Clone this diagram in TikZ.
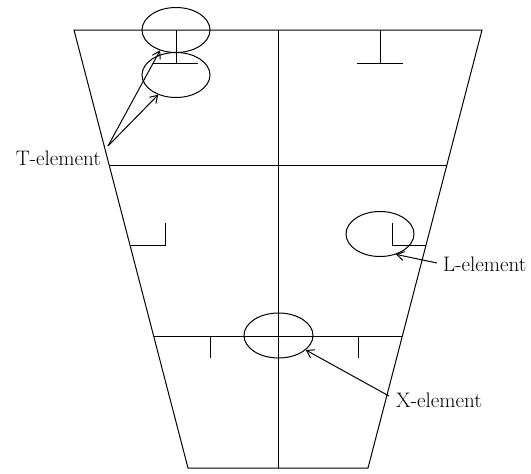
\documentclass[tikz,border=0pt]{standalone}
\usetikzlibrary{shapes.geometric,arrows.meta}
\begin{document}
\begin{tikzpicture}[x=1pt,y=-1pt,
  wall/.style={line width=1pt},
  elem/.style={draw,ellipse,line width=1pt,minimum width=68pt,minimum height=45pt,inner sep=0pt},
  lbl/.style={font=\fontsize{21}{25}\selectfont,inner sep=0pt},
  pointer/.style={line width=1pt,-{Straight Barb[length=7pt,width=9pt]}}]
\useasboundingbox (0,0) rectangle (531,474);
% outline
\coordinate (tl) at (74,30);
\coordinate (tr) at (482,30);
\coordinate (br) at (368,468);
\coordinate (bl) at (188,468);
\draw[wall] (tl) -- (tr) -- (br) -- (bl) -- cycle;
\coordinate (mt) at (278,30);
\coordinate (mb) at (278,468);
\draw[wall] (mt) -- (mb);
\coordinate (h1l) at (109.1,165);
\coordinate (h1r) at (446.9,165);
\draw[wall] (h1l) -- (h1r);
\coordinate (h2l) at (153.6,336);
\coordinate (h2r) at (402.4,336);
\draw[wall] (h2l) -- (h2r);
% T walls
\draw[wall] (176,30) -- (176,63) (153,63) -- (198,63);
\draw[wall] (380,30) -- (380,63) (357,63) -- (403,63);
% L walls
\draw[wall] (130.5,245) -- (165,245) -- (165,223);
\draw[wall] (392,223) -- (392,245) -- (425.5,245);
% X ticks
\draw[wall] (210,336) -- (210,358);
\draw[wall] (358,336) -- (358,358);
% ellipses
\node[elem] (e1) at (176,30) {};
\node[elem] (e2) at (176,75) {};
\node[elem] (eL) at (380,234) {};
\node[elem,minimum width=69pt] (eX) at (278.5,335.5) {};
% labels
\node[lbl,anchor=base east] (tlab) at (101,165) {T-element};
\node[lbl,anchor=base west] (llab) at (443,271) {L-element};
\node[lbl,anchor=base west] (xlab) at (396,407) {X-element};
\coordinate (ts) at (108,146);
\coordinate (ls) at (437,263);
\coordinate (xs) at (389,396);
\draw[pointer] (ts) -- (e1.-128);
\draw[pointer] (ts) -- (e2.-132);
\draw[pointer] (ls) -- (eL.-52);
\draw[pointer] (xs) -- (eX.-28);
\end{tikzpicture}
\end{document}
